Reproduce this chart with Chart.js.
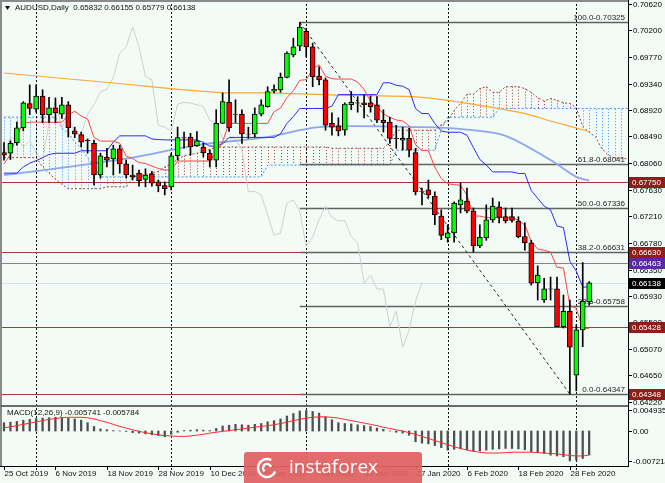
<!DOCTYPE html>
<html>
<head>
<meta charset="utf-8">
<script src="https://cdn.jsdelivr.net/npm/chart.js@4"></script>
<style>
body { margin: 0; background: #f3fbf6; }
#wrap { position: relative; width: 665px; height: 483px; background: #f3fbf6; overflow: hidden; }
canvas { position: absolute; left: 0; top: 0; }
</style>
</head>
<body>
<div id="wrap">
  <canvas id="mainChart" width="665" height="483"></canvas>
  <canvas id="macdChart" width="665" height="483"></canvas>
</div>
<script>
// daily bars, index 0 = 25 Oct 2019 ... 91 = 4 Mar 2020
let opens = [.6823,.6822,.6839,.6863,.6902,.6893,.6914,.6884,.6895,.6885,
  .6900,.6858,.6852,.6843,.6838,.6787,.6816,.6813,.6829,.6805,
  .6787,.6790,.6780,.6789,.6776,.6770,.6768,.6818,.6847,.6848,
  .6834,.6832,.6822,.6811,.6870,.6904,.6885,.6885,.6853,.6853,
  .6885,.6897,.6922,.6924,.6944,.6980,.6994,.7018,.6993,.6946,
  .6940,.6870,.6866,.6859,.6900,.6903,.6903,.6903,.6900,.6875,
  .6872,.6846,.6843,.6846,.6823,.6761,.6763,.6753,.6721,.6686,
  .6694,.6739,.6745,.6729,.6673,.6686,.6715,.6736,.6720,.6720,
  .6713,.6688,.6678,.6614,.6586,.6604,.6604,.6543,.6568,.6465,
  .6538,.65832]
let highs = [.6839,.6842,.6872,.6905,.6932,.6932,.6924,.6912,.6911,.6912,
  .6905,.6864,.6856,.6845,.6843,.6822,.6830,.6835,.6835,.6811,
  .6803,.6795,.6797,.6793,.6779,.6776,.6822,.6864,.6856,.6854,
  .6857,.6838,.6827,.6892,.6919,.6940,.6908,.6892,.6864,.6895,
  .6908,.6929,.6932,.6951,.6985,.7007,.70325,.7023,.6999,.6961,
  .6943,.6887,.6879,.6903,.6921,.6913,.6916,.6914,.6913,.6892,
  .6880,.6867,.6864,.6862,.6830,.6766,.6779,.6760,.6731,.6707,
  .6744,.6774,.6766,.6734,.6707,.6739,.6750,.6744,.6734,.6734,
  .6720,.6710,.6682,.6641,.6621,.6623,.6623,.6594,.6586,.6546,
  .66463,.66155]
let lows = [.6811,.6812,.6835,.6858,.6884,.6888,.6871,.6871,.6871,.6878,
  .6848,.6847,.6832,.6822,.6771,.6782,.6800,.6787,.6790,.6782,
  .6779,.6769,.6768,.6769,.6760,.6755,.6763,.6811,.6830,.6819,
  .6833,.6816,.6800,.6800,.6870,.6857,.6871,.6838,.6846,.6848,
  .6882,.6896,.6919,.6920,.6943,.6977,.6987,.6977,.6929,.6932,
  .6859,.6851,.6850,.6851,.6892,.6888,.6879,.6888,.6871,.6856,
  .6838,.6830,.6827,.6816,.6755,.6739,.6750,.6707,.6683,.6679,
  .6679,.6726,.6726,.6663,.6670,.6682,.6711,.6710,.6710,.6711,
  .6686,.6666,.6610,.6586,.6582,.6586,.6543,.6541,.64347,.6440,
  .6511,.65779]
let closes = [.6819,.6838,.6863,.6903,.6894,.6914,.6884,.6895,.6887,.6900,
  .6863,.6853,.6840,.6842,.6787,.6818,.6811,.6829,.6805,.6787,
  .6784,.6778,.6787,.6774,.6770,.6765,.6818,.6847,.68465,.6832,
  .6842,.6823,.6811,.6870,.6905,.6863,.68845,.6853,.68525,.6885,
  .6900,.6921,.6925,.6944,.6983,.6993,.7025,.6993,.6945,.6940,
  .6867,.6864,.6858,.6901,.6904,.69025,.6900,.6897,.6875,.6871,
  .6846,.68455,.6846,.6827,.6760,.67605,.6755,.6723,.6690,.6694,
  .6742,.6747,.6729,.6673,.6687,.6715,.6737,.6719,.6713,.6714,
  .6688,.6678,.6613,.6626,.6604,.66035,.6543,.6568,.6510,.6538,
  .6584,.66138]

// ichimoku lines
let tenkan = [.6805,.6820,.6850,.6870,.6872,.6872,.6872,.6872,.68715,.6872,
  .68835,.68895,.6882,.6877,.68475,.68415,.68415,.68415,.6838,.68175,
  .68135,.6807,.68055,.68015,.67975,.6795,.6795,.68095,.68095,.68095,
  .68095,.68095,.68095,.68235,.6841,.6870,.6870,.6870,.6870,.6870,
  .6870,.6870,.6889,.68945,.69115,.69225,.69393,.69403,.69573,.69643,
  .69458,.69418,.69413,.69413,.69413,.69365,.69245,.69055,.68965,.68855,
  .68795,.68755,.6874,.6866,.68355,.68265,.6826,.67995,.67815,.6773,
  .67715,.67705,.67545,.6721,.6721,.67185,.67185,.67185,.67185,.67185,
  .67145,.67065,.6680,.6668,.6666,.6663,.66385,.66375,.65774,.65724,
  .65405,.65405]
let kijun = [.6790,.6790,.6790,.6800,.6806,.6810,.6815,.6820,.6822,.6822,
  .6822,.6822,.6826,.6826,.6826,.6826,.6826,.6840,.6850,.6850,
  .6850,.6850,.6850,.6845,.6844,.68435,.68435,.68435,.68435,.68435,
  .68435,.68395,.68335,.68335,.6837,.68475,.68475,.68475,.68475,.68475,
  .68475,.68475,.68475,.6853,.6870,.6881,.6894,.6894,.6894,.6894,
  .6894,.68978,.69163,.69163,.69163,.69163,.69163,.69163,.69163,.69353,
  .69353,.69313,.69298,.69243,.68938,.68858,.68858,.68698,.68578,.68558,
  .68558,.68558,.6851,.6831,.6812,.6803,.6792,.6792,.6792,.6792,
  .67895,.67895,.6762,.67495,.6737,.6731,.6705,.67025,.66484,.66324,
  .66069,.66069]
// cloud, runs 6 bars past the last candle
let spanA = [.6815,.6815,.6815,.6815,.6815,.6815,.6800,.6790,.6780,.6772,
  .6765,.6765,.6765,.6765,.6765,.6765,.6768,.6768,.6768,.6768,
  .6783,.6786,.6788,.6790,.6793,.6800,.6805,.6812,.6818,.6820,
  .6822,.6825,.6828,.6832,.6832,.6832,.6832,.6832,.6832,.6832,
  .6832,.6832,.6832,.6832,.6832,.6832,.6832,.6832,.6832,.6832,
  .6832,.6830,.6830,.6830,.6830,.6830,.6830,.6830,.6830,.6830,
  .6840,.6859,.6859,.6859,.6859,.6859,.6859,.6859,.6868,.6874,
  .6891,.6902,.6917,.6917,.6926,.6929,.6920,.6920,.6929,.6929,
  .6929,.6926,.6920,.6911,.6906,.6910,.6907,.6903,.6902,.6895,
  .6865,.6856,.6848,.6829,.6819,.6814,.6814,.6813]
let spanB = [.6880,.6880,.6880,.6880,.6880,.6880,.6880,.6880,.6880,.6862,
  .6855,.6840,.6830,.6815,.6800,.6784,.6784,.6784,.6784,.6784,
  .6784,.6784,.6784,.6784,.6784,.6784,.6784,.6784,.6784,.6784,
  .6784,.6784,.6784,.6784,.6784,.6784,.6784,.6784,.6784,.6784,
  .6784,.6803,.6803,.6803,.6803,.6803,.6803,.6803,.6803,.6803,
  .6803,.6803,.6803,.6803,.6803,.6803,.6803,.6803,.6803,.6803,
  .6803,.6827,.6827,.6827,.6827,.6827,.6827,.6827,.6860,.6880,
  .6880,.6880,.6880,.6880,.6880,.6880,.6880,.6894,.6894,.6894,
  .6894,.6894,.6894,.6894,.6894,.6894,.6894,.6894,.6894,.6894,
  .6894,.6894,.6894,.6894,.6894,.6894,.6894,.6894]

// moving averages read at a few bars
let maSlowBars = [0, 17, 33, 41, 51, 65, 71, 80, 86, 91]
let maSlowVals = [.6951, .6935, .6920, .6919, .6916, .6912, .6904, .6888, .6871, .6857]
let maMidBars = [0, 10, 20, 30, 41, 49, 65, 72, 78, 85, 89, 91]
let maMidVals = [.6787, .6800, .6815, .6835, .6848, .6864, .6864, .6860, .6850, .6811, .6784, .6778]

// MACD(12,26,9)
let macdMain = [.0020,.0021,.0023,.0026,.0028,.0030,.0031,.0032,.0033,.0032,
  .0031,.0029,.0026,.0020,.0011,.0005,.0003,.0001,.0000,-.0001,
  -.0004,-.0005,-.0007,-.0009,-.0011,-.0014,-.0008,-.0003,.0001,.0002,
  .0003,.0002,.0001,.0006,.0012,.0014,.0016,.0015,.0014,.0016,
  .0018,.0022,.0025,.0029,.0036,.0042,.0048,.00493,.0047,.0043,
  .0034,.0027,.0020,.0018,.0017,.0015,.0013,.0011,.0007,.0004,
  .0000,-.0003,-.0005,-.0010,-.0026,-.0029,-.0031,-.0035,-.0040,-.0046,
  -.0044,-.0043,-.0045,-.0048,-.0048,-.0046,-.0044,-.0043,-.0042,-.0042,
  -.0043,-.0045,-.0050,-.0052,-.0054,-.0058,-.0060,-.0062,-.0072,-.0070,
  -.0066,-.005741]
let macdSignal = [.0008,.0010,.0013,.0016,.0019,.0022,.0025,.0028,.0030,.0032,
  .0033,.0033,.0033,.0032,.0029,.0025,.0021,.0016,.0011,.0007,
  .0003,-.0001,-.0004,-.0007,-.0009,-.0011,-.0012,-.0013,-.0013,-.0012,
  -.0010,-.0008,-.0005,-.0003,-.0001,.0001,.0003,.0005,.0007,.0009,
  .0011,.0013,.0015,.0018,.0021,.0025,.0028,.0031,.0033,.0034,
  .0034,.0033,.0031,.0028,.0025,.0022,.0019,.0016,.0013,.0009,
  .0006,.0003,.0000,-.0004,-.0008,-.0013,-.0018,-.0023,-.0028,-.0033,
  -.0038,-.0042,-.0046,-.0049,-.0051,-.0053,-.0053,-.0053,-.0052,-.0051,
  -.0051,-.0051,-.0051,-.0052,-.0053,-.0054,-.0055,-.0057,-.0059,-.0060,
  -.0060,-.005784]

// axes
let priceTicks = [0.70620,0.70200,0.69770,0.69340,0.68920,0.68490,0.68060,0.67630,
  0.67210,0.66780,0.66350,0.65930,0.65500,0.65070,0.64650,0.64220]
let macdTicks = [0.004935, 0, -0.007214]
let macdTickText = ['0.004935', '0.00', '-0.007214']
let dateBars = [0, 8, 16, 24, 32, 40, 48, 56, 64, 72, 80, 88]
let dateText = ['25 Oct 2019','6 Nov 2019','18 Nov 2019','28 Nov 2019','10 Dec 2019','20 Dec 2019',
  '3 Jan 2020','15 Jan 2020','27 Jan 2020','6 Feb 2020','18 Feb 2020','28 Feb 2020']
let monthBars = [5, 26, 47, 69, 89]

// drawn objects
let levelVals = [0.67750, 0.66630, 0.66463, 0.65428, 0.64348]
let levelColors = ['#a83a32', '#a83a32', '#9270d8', '#a83a32', '#a83a32']
let levelBoxes = ['#8e1e1a', '#8e1e1a', '#5a2aa0', '#8e1e1a', '#8e1e1a']
let lastPrice = 0.66138
let fibLevels = ['100.0', '61.8', '50.0', '38.2', '23.6', '0.0']
let fibVals = [0.70325, 0.68041, 0.67336, 0.66631, 0.65758, 0.64347]
let fibFromBar = 46, fibToBar = 88

const FONT = '8px "Liberation Sans", Arial, sans-serif'
const idx = opens.map((_, i) => i)
const cloudIdx = spanA.map((_, i) => i)

function pathLine(ctx, vals, xs, ys, color, dash) {
  ctx.strokeStyle = color
  ctx.setLineDash(dash)
  ctx.beginPath()
  vals.forEach((v, i) => {
    let px = xs.getPixelForValue(i), py = ys.getPixelForValue(v)
    if (i == 0) ctx.moveTo(px, py); else ctx.lineTo(px, py)
  })
  ctx.stroke()
}

function separators(chart, top, bottom) {
  let ctx = chart.ctx, xs = chart.scales.x
  ctx.save()
  ctx.strokeStyle = '#111'
  ctx.lineWidth = 1
  ctx.setLineDash([2, 2])
  monthBars.forEach(b => {
    let px = Math.round(xs.getPixelForValue(b)) + 0.5
    ctx.beginPath(); ctx.moveTo(px, top); ctx.lineTo(px, bottom); ctx.stroke()
  })
  ctx.restore()
}

const mainDecor = {
  id: 'mainDecor',
  beforeDatasetsDraw(chart) {
    let {ctx, chartArea: a} = chart
    let xs = chart.scales.x, ys = chart.scales.y
    ctx.save()
    ctx.beginPath(); ctx.rect(a.left, a.top, a.right - a.left, a.bottom - a.top); ctx.clip()
    // cloud hatch
    ctx.lineWidth = 1
    ctx.setLineDash([1, 2])
    cloudIdx.forEach(i => {
      let px = Math.round(xs.getPixelForValue(i)) + 0.5
      ctx.strokeStyle = spanA[i] >= spanB[i] ? '#a4413a' : '#3f94ee'
      ctx.beginPath()
      ctx.moveTo(px, ys.getPixelForValue(spanA[i]))
      ctx.lineTo(px, ys.getPixelForValue(spanB[i]))
      ctx.stroke()
    })
    pathLine(ctx, spanA, xs, ys, '#a4413a', [2, 2])
    pathLine(ctx, spanB, xs, ys, '#3f94ee', [2, 2])
    ctx.restore()

    separators(chart, 0, a.bottom)

    ctx.save()
    ctx.beginPath(); ctx.rect(a.left, a.top, a.right - a.left, a.bottom - a.top); ctx.clip()
    // bid line
    let yb = Math.round(ys.getPixelForValue(lastPrice)) + 0.5
    ctx.strokeStyle = '#d6e0ee'
    ctx.beginPath(); ctx.moveTo(a.left, yb); ctx.lineTo(a.right, yb); ctx.stroke()
    // horizontal levels
    levelVals.forEach((v, k) => {
      let py = Math.round(ys.getPixelForValue(v)) + 0.5
      ctx.strokeStyle = levelColors[k]
      ctx.lineWidth = 1.2
      ctx.beginPath(); ctx.moveTo(a.left, py); ctx.lineTo(a.right, py); ctx.stroke()
    })
    // fibonacci
    let fx = xs.getPixelForValue(fibFromBar)
    ctx.font = FONT
    ctx.textAlign = 'right'
    ctx.textBaseline = 'bottom'
    fibVals.forEach((v, k) => {
      let py = Math.round(ys.getPixelForValue(v)) + 0.5
      ctx.strokeStyle = '#626262'
      ctx.lineWidth = 1.5
      ctx.beginPath(); ctx.moveTo(fx, py); ctx.lineTo(a.right, py); ctx.stroke()
      ctx.fillStyle = '#1c1c1c'
      ctx.fillText(fibLevels[k] + '-' + v.toFixed(5), a.right - 3, py - 1)
    })
    // trend line of the retracement
    ctx.strokeStyle = '#222'
    ctx.lineWidth = 1
    ctx.setLineDash([3, 3])
    ctx.beginPath()
    ctx.moveTo(fx, ys.getPixelForValue(fibVals[0]))
    ctx.lineTo(xs.getPixelForValue(fibToBar), ys.getPixelForValue(fibVals[5]))
    ctx.stroke()
    ctx.restore()
  },
  afterDraw(chart) {
    let {ctx, chartArea: a} = chart
    let ys = chart.scales.y
    ctx.save()
    ctx.font = FONT
    ctx.textBaseline = 'middle'
    ctx.textAlign = 'left'
    // price scale
    priceTicks.forEach(v => {
      let py = Math.round(ys.getPixelForValue(v)) + 0.5
      ctx.strokeStyle = '#000'
      ctx.beginPath(); ctx.moveTo(a.right, py); ctx.lineTo(a.right + 4, py); ctx.stroke()
      ctx.fillStyle = '#000'
      ctx.fillText(v.toFixed(5), a.right + 5, py)
    })
    // level price boxes
    let boxVals = levelVals.concat([lastPrice])
    let boxCols = levelBoxes.concat(['#000'])
    boxVals.forEach((v, k) => {
      let py = Math.round(ys.getPixelForValue(v))
      ctx.fillStyle = boxCols[k]
      ctx.fillRect(a.right + 1, py - 5, 36, 11)
      ctx.fillStyle = '#fff'
      ctx.fillText(v.toFixed(5), a.right + 4, py + 0.5)
    })
    // title
    ctx.fillStyle = '#111'
    ctx.beginPath(); ctx.moveTo(5, 6); ctx.lineTo(10, 6); ctx.lineTo(7.5, 10); ctx.closePath(); ctx.fill()
    ctx.fillText('AUDUSD,Daily  0.65832 0.66155 0.65779 0.66138', 15, 8)
    ctx.restore()
  }
}

const macdDecor = {
  id: 'macdDecor',
  beforeDatasetsDraw(chart) {
    separators(chart, chart.chartArea.top, chart.chartArea.bottom + 4)
  },
  afterDraw(chart) {
    let {ctx, chartArea: a} = chart
    let xs = chart.scales.x, ys = chart.scales.y
    ctx.save()
    // frames
    ctx.fillStyle = '#8a8a8a'
    ctx.fillRect(0, 0, 2, a.bottom + 1)
    ctx.fillRect(0, 0, a.right, 2)
    ctx.fillStyle = '#6a6a6a'
    ctx.fillRect(0, 405, a.right, 2)
    ctx.fillStyle = '#000'
    ctx.fillRect(a.right, 0, 1, a.bottom + 1)
    ctx.fillRect(0, a.bottom, a.right + 1, 1)
    ctx.font = FONT
    ctx.textBaseline = 'middle'
    ctx.textAlign = 'left'
    macdTicks.forEach((v, k) => {
      let py = Math.round(ys.getPixelForValue(v)) + 0.5
      ctx.strokeStyle = '#000'
      ctx.beginPath(); ctx.moveTo(a.right, py); ctx.lineTo(a.right + 4, py); ctx.stroke()
      ctx.fillText(macdTickText[k], a.right + 5, py)
    })
    ctx.fillStyle = '#111'
    ctx.fillText('MACD(12,26,9) -0.005741 -0.005784', 7, 413)
    // dates
    dateBars.forEach((b, k) => {
      let px = Math.round(xs.getPixelForValue(b)) + 0.5
      ctx.strokeStyle = '#000'
      ctx.beginPath(); ctx.moveTo(px, a.bottom); ctx.lineTo(px, a.bottom + 4); ctx.stroke()
      ctx.fillText(dateText[k], px, 474)
    })
    // watermark
    ctx.fillStyle = 'rgba(224, 96, 96, 0.93)'
    ctx.beginPath()
    ctx.roundRect(244, 452, 178, 40, 3)
    ctx.fill()
    ctx.strokeStyle = '#fff'
    ctx.lineWidth = 2.5
    ctx.beginPath(); ctx.arc(267, 468, 9, 0.4, 5.2); ctx.stroke()
    ctx.beginPath(); ctx.arc(267, 468, 4, 2.2, 6.0); ctx.stroke()
    ctx.fillStyle = '#fff'
    ctx.font = '19px "Open Sans", Arial, sans-serif'
    ctx.fillText('instaforex', 289, 468)
    ctx.restore()
  }
}

function pts(bars, vals) {
  return bars.map((b, k) => ({x: b, y: vals[k]}))
}

let mainChart = new Chart(document.getElementById('mainChart'), {
  type: 'bar',
  data: {
    datasets: [{
      label: 'wick',
      data: idx.map(i => ({x: i, y: [lows[i], highs[i]]})),
      backgroundColor: '#000',
      barThickness: 1,
      grouped: false,
      order: 1
    }, {
      label: 'body',
      data: idx.map(i => ({x: i, y: [opens[i], closes[i]]})),
      backgroundColor: idx.map(i => closes[i] >= opens[i] ? '#00ff00' : '#ff0000'),
      borderColor: '#000',
      borderWidth: 1,
      borderSkipped: false,
      barThickness: 5,
      grouped: false,
      order: 0
    }, {
      type: 'line',
      label: 'Tenkan',
      data: pts(idx, tenkan),
      borderColor: '#ff4040',
      borderWidth: 1,
      pointRadius: 0,
      order: 3
    }, {
      type: 'line',
      label: 'Kijun',
      data: pts(idx, kijun),
      borderColor: '#2a2aff',
      borderWidth: 1,
      pointRadius: 0,
      order: 4
    }, {
      type: 'line',
      label: 'Chikou',
      data: idx.filter(i => i + 26 < closes.length).map(i => ({x: i, y: closes[i + 26]})),
      borderColor: '#cfcfcf',
      borderWidth: 1,
      pointRadius: 0,
      order: 6
    }, {
      type: 'line',
      label: 'MA slow',
      data: pts(maSlowBars, maSlowVals),
      borderColor: '#ffa533',
      borderWidth: 1.2,
      pointRadius: 0,
      tension: 0.3,
      order: 5
    }, {
      type: 'line',
      label: 'MA mid',
      data: pts(maMidBars, maMidVals),
      borderColor: '#8ea6f0',
      borderWidth: 1.8,
      pointRadius: 0,
      tension: 0.3,
      order: 5
    }]
  },
  options: {
    responsive: false,
    animation: false,
    layout: {padding: {left: 2, right: 37, top: 2, bottom: 77}},
    plugins: {legend: {display: false}, tooltip: {enabled: false}},
    scales: {
      x: {type: 'linear', min: -0.311, max: 97.04, offset: false, display: false},
      y: {min: 0.64156, max: 0.70652, display: false}
    }
  },
  plugins: [mainDecor]
})

let macdChart = new Chart(document.getElementById('macdChart'), {
  type: 'bar',
  data: {
    datasets: [{
      label: 'MACD',
      data: pts(idx, macdMain),
      backgroundColor: '#4e4e4e',
      barThickness: 1.6,
      grouped: false,
      order: 1
    }, {
      type: 'line',
      label: 'Signal',
      data: pts(idx, macdSignal),
      borderColor: '#ff2a2a',
      borderWidth: 1,
      pointRadius: 0,
      order: 0
    }]
  },
  options: {
    responsive: false,
    animation: false,
    layout: {padding: {left: 2, right: 37, top: 408, bottom: 17}},
    plugins: {legend: {display: false}, tooltip: {enabled: false}},
    scales: {
      x: {type: 'linear', min: -0.311, max: 97.04, offset: false, display: false},
      y: {min: -0.008419, max: 0.005533, display: false}
    }
  },
  plugins: [macdDecor]
})
</script>
</body>
</html>
